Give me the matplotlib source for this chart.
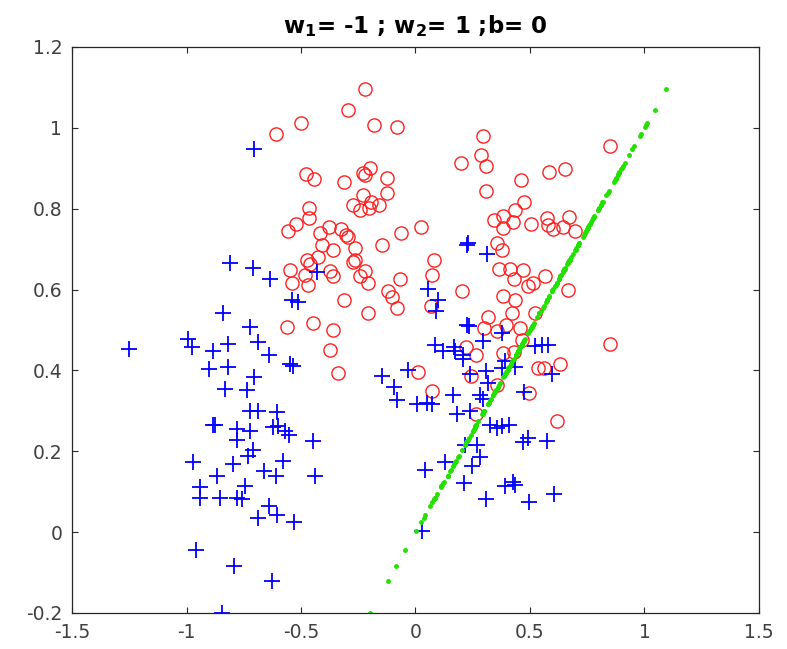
import numpy as np
import matplotlib
matplotlib.use("Agg")
import matplotlib.pyplot as plt
from matplotlib.ticker import FuncFormatter

# class 1 (red circles)
red_x = [-0.609, -0.498, -0.296, -0.221, -0.181, -0.079, 0.293, 0.286, 0.308, 0.199,
         0.307, -0.478, -0.443, -0.311, -0.228, -0.199, -0.221, -0.126, -0.126, -0.231,
         -0.272, -0.242, -0.196, -0.202, -0.158, -0.464, -0.464, -0.376, -0.417, -0.325,
         -0.303, -0.293, -0.410, -0.359, -0.264, -0.148, -0.065, 0.023, 0.344, 0.356,
         0.376, -0.475, -0.424, -0.264, 0.082, -0.461, -0.273, -0.221, -0.242, -0.206,
         -0.483, -0.468, -0.373, -0.362, -0.068, -0.119, -0.104, -0.079, -0.311, -0.209,
         -0.446, -0.359, -0.373, -0.337, 0.010, 0.071, 0.071, 0.204, 0.068, 0.315,
         0.300, 0.355, 0.219, 0.263, 0.241, 0.366, 0.355, 0.263, 0.849, 0.584,
         0.653, 0.459, 0.475, 0.434, 0.383, 0.424, 0.381, 0.503, 0.573, 0.580,
         0.602, 0.645, 0.672, 0.697, 0.413, 0.468, 0.430, 0.566, 0.493, 0.512,
         0.665, 0.383, 0.434, 0.420, 0.522, 0.395, 0.456, 0.464, 0.383, 0.430,
         0.849, 0.536, 0.562, 0.631, 0.497, 0.619, -0.555, -0.522, -0.548, -0.541,
         -0.560]
red_y = [0.986, 1.013, 1.044, 1.095, 1.008, 1.002, 0.979, 0.932, 0.905, 0.914,
         0.843, 0.886, 0.874, 0.867, 0.889, 0.900, 0.883, 0.875, 0.839, 0.833,
         0.810, 0.796, 0.816, 0.802, 0.809, 0.802, 0.777, 0.754, 0.740, 0.749,
         0.734, 0.730, 0.710, 0.699, 0.703, 0.710, 0.740, 0.754, 0.772, 0.714,
         0.697, 0.672, 0.680, 0.674, 0.674, 0.662, 0.667, 0.645, 0.633, 0.617,
         0.637, 0.612, 0.645, 0.633, 0.625, 0.596, 0.582, 0.555, 0.574, 0.541,
         0.518, 0.501, 0.451, 0.394, 0.396, 0.348, 0.637, 0.596, 0.560, 0.532,
         0.505, 0.497, 0.458, 0.439, 0.385, 0.651, 0.365, 0.291, 0.956, 0.890,
         0.897, 0.870, 0.817, 0.798, 0.781, 0.768, 0.753, 0.761, 0.776, 0.759,
         0.749, 0.755, 0.779, 0.744, 0.650, 0.648, 0.625, 0.633, 0.610, 0.617,
         0.598, 0.583, 0.575, 0.541, 0.541, 0.513, 0.505, 0.476, 0.443, 0.446,
         0.466, 0.406, 0.406, 0.417, 0.344, 0.274, 0.744, 0.763, 0.648, 0.617,
         0.508]

# class 2 (blue crosses)
blue_x = [-0.704, -0.810, -0.708, -0.635, -0.541, -0.513, -0.839, -0.723, -0.992, -0.977,
          -1.251, -0.886, -0.817, -0.689, -0.641, -0.900, -0.817, -0.705, -0.832, -0.737,
          -0.548, -0.534, -0.723, -0.686, -0.603, -0.886, -0.876, -0.778, -0.723, -0.621,
          -0.599, -0.570, -0.551, -0.778, -0.708, -0.730, -0.580, -0.973, -0.796, -0.660,
          -0.609, -0.866, -0.941, -0.745, -0.941, -0.854, -0.781, -0.759, -0.638, -0.606,
          -0.689, -0.529, -0.960, -0.791, -0.628, -0.844, -0.431, 0.056, 0.100, 0.090,
          0.224, 0.234, 0.293, 0.085, 0.121, 0.168, 0.172, 0.209, 0.209, -0.148,
          -0.031, -0.093, -0.079, 0.005, 0.049, 0.071, 0.165, 0.238, 0.308, 0.318,
          0.282, 0.293, 0.180, 0.238, 0.325, 0.355, -0.449, 0.216, 0.267, 0.376,
          0.522, 0.551, 0.580, 0.391, 0.434, 0.376, 0.597, 0.474, 0.410, 0.376,
          0.493, 0.468, 0.573, 0.424, 0.391, 0.434, 0.497, 0.606, -0.439, 0.041,
          0.129, 0.282, 0.245, 0.212, 0.308, 0.027, 0.224, 0.311, 0.229]
blue_y = [0.947, 0.666, 0.654, 0.627, 0.575, 0.568, 0.541, 0.508, 0.478, 0.458,
          0.454, 0.447, 0.466, 0.471, 0.439, 0.404, 0.409, 0.384, 0.355, 0.351,
          0.417, 0.412, 0.300, 0.300, 0.296, 0.264, 0.264, 0.255, 0.249, 0.260,
          0.262, 0.249, 0.241, 0.229, 0.204, 0.189, 0.177, 0.173, 0.169, 0.150,
          0.140, 0.140, 0.111, 0.113, 0.084, 0.084, 0.084, 0.082, 0.064, 0.043,
          0.035, 0.024, -0.045, -0.083, -0.120, -0.199, 0.643, 0.602, 0.574, 0.546,
          0.512, 0.509, 0.472, 0.464, 0.447, 0.458, 0.447, 0.439, 0.428, 0.385,
          0.402, 0.359, 0.326, 0.317, 0.320, 0.318, 0.340, 0.390, 0.398, 0.369,
          0.338, 0.329, 0.293, 0.299, 0.266, 0.258, 0.225, 0.216, 0.216, 0.493,
          0.461, 0.464, 0.464, 0.423, 0.409, 0.406, 0.390, 0.346, 0.266, 0.262,
          0.233, 0.222, 0.225, 0.125, 0.113, 0.117, 0.074, 0.094, 0.140, 0.154,
          0.173, 0.187, 0.163, 0.122, 0.082, 0.004, 0.711, 0.687, 0.716]

w1, w2, b = -1, 1, 0

# decision line evaluated at the x2 values of all samples
x2_line = np.array(red_y + blue_y)
x1_line = (-w2 * x2_line - b) / w1

fig = plt.figure(figsize=(7.87, 6.49), dpi=100)
ax = fig.add_axes([0.0915, 0.0555, 0.8729, 0.8721])

ax.plot(red_x, red_y, 'o', mfc='none', mec='#ff2020', ms=9.5, mew=1.0)
ax.plot(blue_x, blue_y, '+', color='#0000ff', ms=11, mew=1.3)
ax.plot(x1_line, x2_line, '.', color='#22e000', ms=5)

ax.set_xlim(-1.5, 1.5)
ax.set_ylim(-0.2, 1.2)
ax.set_xticks([-1.5, -1, -0.5, 0, 0.5, 1, 1.5])
ax.set_yticks([-0.2, 0, 0.2, 0.4, 0.6, 0.8, 1, 1.2])
fmt = FuncFormatter(lambda v, p: '%g' % v)
ax.xaxis.set_major_formatter(fmt)
ax.yaxis.set_major_formatter(fmt)
ax.tick_params(direction='in', top=True, right=True, length=4, pad=7,
               labelsize=13.5, labelcolor='#404040', color='#262626')
for s in ax.spines.values():
    s.set_color('#262626')
    s.set_linewidth(0.9)

ax.set_title(r'$\mathbf{w_1}$= -1 ; $\mathbf{w_2}$= 1 ;b= 0',
             fontsize=16.5, fontweight='bold', pad=10)

fig.savefig('out.png', dpi=100)
